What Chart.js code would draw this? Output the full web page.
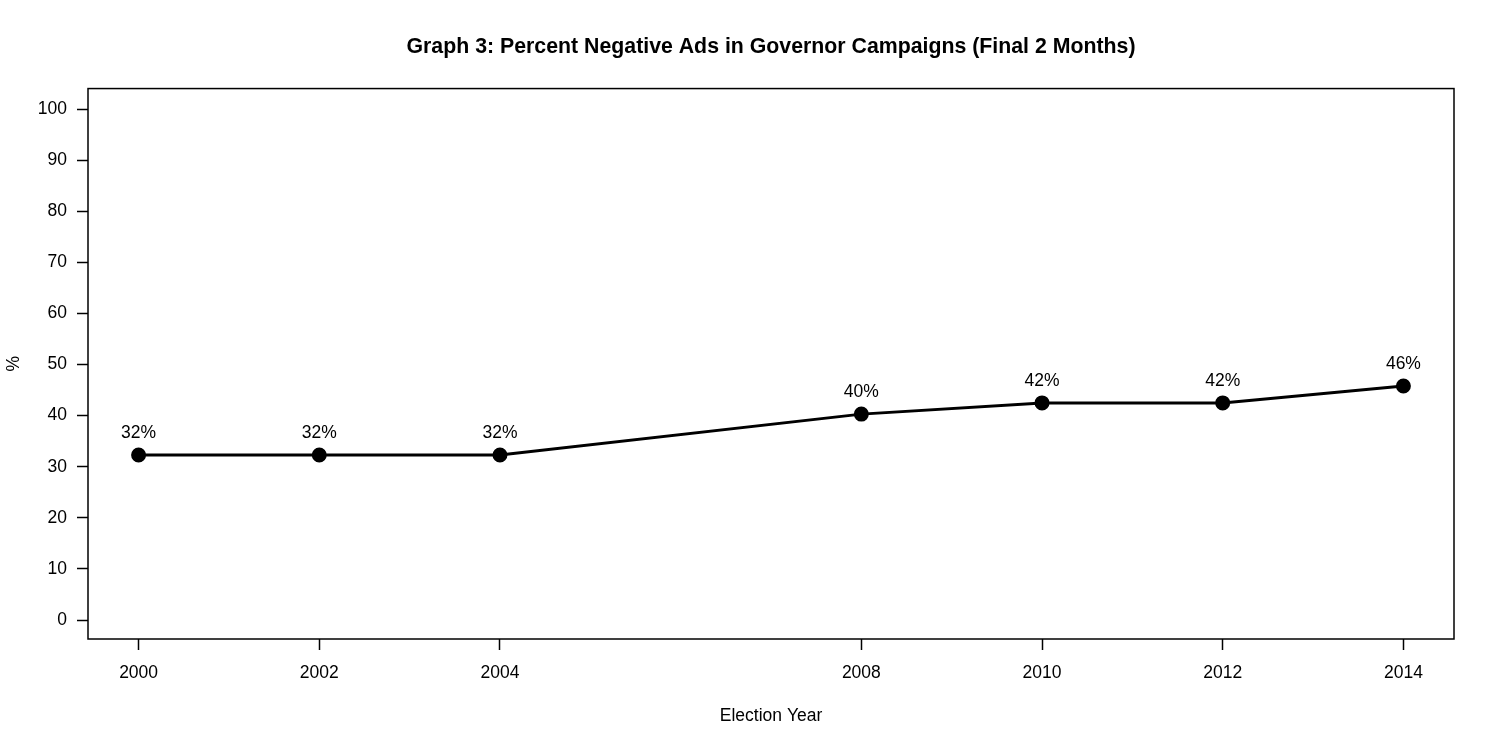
<!DOCTYPE html>
<html lang="en">
<head>
    <meta charset="UTF-8">
    <title>Graph 3</title>
    <style>
        body { margin: 0; background: #fff; }
    </style>
</head>
<body>
    <canvas id="myChart" width="1500" height="750"></canvas>
    <script src="https://cdn.jsdelivr.net/npm/chart.js"></script>
    <script>
        // values
        const years = [2000, 2002, 2004, 2008, 2010, 2012, 2014];
        const negPct = [32.3, 32.3, 32.3, 40.3, 42.5, 42.5, 45.8];
        const pctLabels = ['32%', '32%', '32%', '40%', '42%', '42%', '46%'];
        const yTicks = [0, 10, 20, 30, 40, 50, 60, 70, 80, 90, 100];

        const font = 'Liberation Sans, Arial, sans-serif';

        // box around plot + the % labels above points
        const boxAndLabels = {
            id: 'boxAndLabels',
            afterDraw(chart) {
                const c = chart.ctx;
                const a = chart.chartArea;
                c.save();
                c.strokeStyle = '#000';
                c.lineWidth = 1.5;
                c.strokeRect(a.left, a.top, a.right - a.left, a.bottom - a.top);

                c.fillStyle = '#000';
                c.font = '17.5px ' + font;
                c.textAlign = 'center';
                c.textBaseline = 'middle';
                const meta = chart.getDatasetMeta(0);
                meta.data.forEach((pt, i) => {
                    c.fillText(pctLabels[i], pt.x, pt.y - 22);
                });
                c.restore();
            }
        };

        const ctx = document.getElementById('myChart');
        new Chart(ctx, {
            type: 'line',
            data: {
                datasets: [{
                    data: years.map((y, i) => ({ x: y, y: negPct[i] })),
                    borderColor: '#000',
                    backgroundColor: '#000',
                    borderWidth: 3,
                    pointRadius: 6,
                    pointHoverRadius: 6,
                    tension: 0
                }]
            },
            options: {
                responsive: false,
                animation: false,
                layout: { padding: { right: 46, top: 0, left: 0, bottom: 0 } },
                plugins: {
                    legend: { display: false },
                    tooltip: { enabled: false },
                    title: {
                        display: true,
                        fullSize: false,
                        text: 'Graph 3: Percent Negative Ads in Governor Campaigns (Final 2 Months)',
                        color: '#000',
                        font: { family: font, size: 21.3, weight: 'bold' },
                        padding: { top: 34, bottom: 29 }
                    }
                },
                scales: {
                    x: {
                        type: 'linear',
                        min: 1999.44,
                        max: 2014.56,
                        afterBuildTicks: s => { s.ticks = years.map(v => ({ value: v })); },
                        afterFit: s => { s.height = 111; },
                        grid: { drawOnChartArea: false, tickLength: 11, tickColor: '#000', tickWidth: 1.5 },
                        border: { display: false },
                        ticks: {
                            color: '#000',
                            font: { family: font, size: 17.5 },
                            padding: 13,
                            maxRotation: 0,
                            callback: v => String(v)
                        },
                        title: {
                            display: true,
                            text: 'Election Year',
                            color: '#000',
                            font: { family: font, size: 17.5 },
                            padding: { top: 20, bottom: 23 }
                        }
                    },
                    y: {
                        min: -3.7,
                        max: 104,
                        afterBuildTicks: s => { s.ticks = yTicks.map(v => ({ value: v })); },
                        afterFit: s => { s.width = 88; },
                        grid: { drawOnChartArea: false, tickLength: 11, tickColor: '#000', tickWidth: 1.5 },
                        border: { display: false },
                        ticks: {
                            color: '#000',
                            font: { family: font, size: 17.5 },
                            padding: 10
                        },
                        title: {
                            display: true,
                            text: '%',
                            color: '#000',
                            font: { family: font, size: 17.5 },
                            padding: { top: 4, bottom: 4 }
                        }
                    }
                }
            },
            plugins: [boxAndLabels]
        });
    </script>
</body>
</html>
